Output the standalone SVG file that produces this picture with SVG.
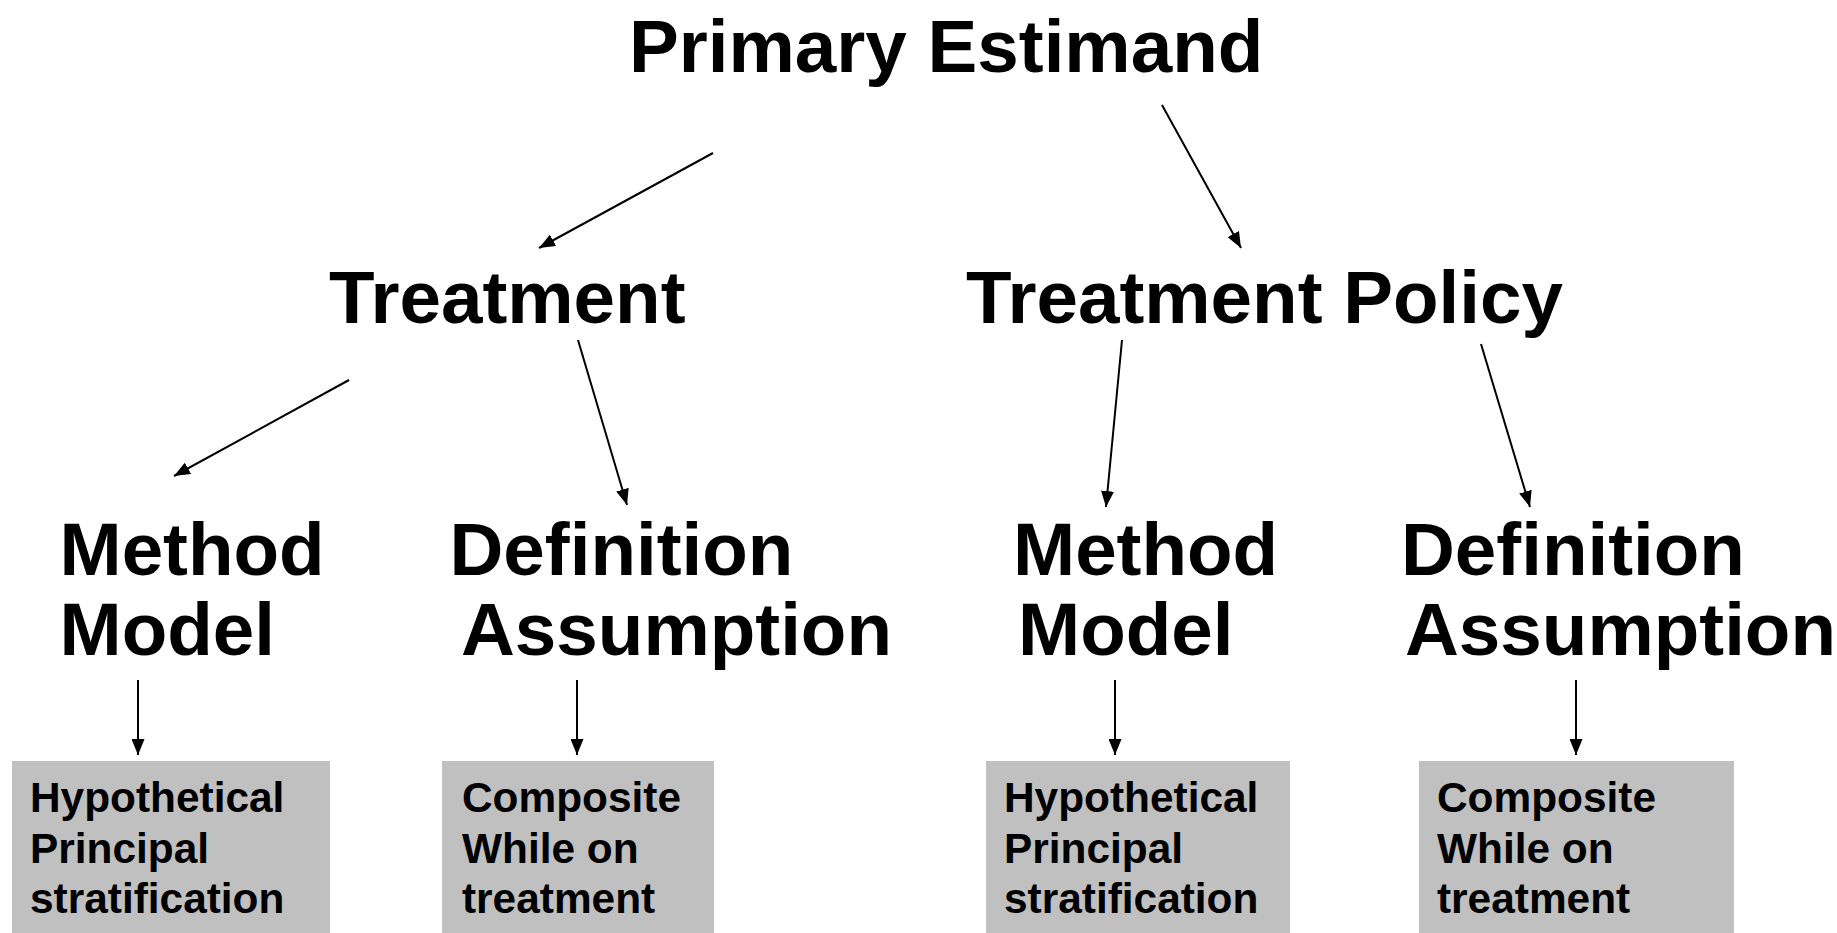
<svg xmlns="http://www.w3.org/2000/svg" width="1837" height="933" viewBox="0 0 1837 933">
<style>
.t{font-family:"Liberation Sans",Arial,sans-serif;font-weight:bold;fill:#000}
.big{font-size:74.6px}
.small{font-size:42.4px}
.box{fill:#c0c0c0}
.c{stroke:#000;stroke-width:2;fill:none;marker-end:url(#ah)}
</style>
<defs>
<marker id="ah" markerUnits="userSpaceOnUse" markerWidth="17" markerHeight="13" refX="16" refY="6.5" orient="auto">
<path d="M0,0 L16,6.5 L0,13 z" fill="#000"/>
</marker>
</defs>
<rect width="1837" height="933" fill="#fff"/>
<g id="connectors">
<line class="c" x1="713" y1="153" x2="539" y2="248"/>
<line class="c" x1="1162" y1="105" x2="1241" y2="248"/>
<line class="c" x1="349" y1="380" x2="174" y2="476"/>
<line class="c" x1="578" y1="340" x2="627" y2="505"/>
<line class="c" x1="1122" y1="340" x2="1106" y2="507"/>
<line class="c" x1="1481" y1="344" x2="1530" y2="507"/>
<line class="c" x1="138" y1="680" x2="138" y2="755"/>
<line class="c" x1="577" y1="680" x2="577" y2="755"/>
<line class="c" x1="1115" y1="680" x2="1115" y2="755"/>
<line class="c" x1="1576" y1="680" x2="1576" y2="755"/>
</g>
<g id="primary"><text class="t big" x="629" y="72">Primary Estimand</text></g>
<g id="treatment"><text class="t big" x="329" y="323">Treatment</text></g>
<g id="treatment-policy"><text class="t big" x="966" y="323">Treatment Policy</text></g>
<g id="method-model-1"><text class="t big" x="59.5" y="575">Method</text><text class="t big" x="59.5" y="655">Model</text></g>
<g id="definition-assumption-1"><text class="t big" x="449.5" y="575">Definition</text><text class="t big" x="461" y="655">Assumption</text></g>
<g id="method-model-2"><text class="t big" x="1013" y="575">Method</text><text class="t big" x="1018" y="655">Model</text></g>
<g id="definition-assumption-2"><text class="t big" x="1401" y="575">Definition</text><text class="t big" x="1405" y="655">Assumption</text></g>
<g id="box-1"><rect class="box" x="12" y="761" width="318" height="172"/><text class="t small" x="30" y="812">Hypothetical</text><text class="t small" x="30" y="863">Principal</text><text class="t small" x="30" y="913">stratification</text></g>
<g id="box-2"><rect class="box" x="442" y="761" width="272" height="172"/><text class="t small" x="462" y="812">Composite</text><text class="t small" x="462" y="863">While on</text><text class="t small" x="462" y="913">treatment</text></g>
<g id="box-3"><rect class="box" x="986" y="761" width="304" height="172"/><text class="t small" x="1004" y="812">Hypothetical</text><text class="t small" x="1004" y="863">Principal</text><text class="t small" x="1004" y="913">stratification</text></g>
<g id="box-4"><rect class="box" x="1419" y="761" width="315" height="172"/><text class="t small" x="1437" y="812">Composite</text><text class="t small" x="1437" y="863">While on</text><text class="t small" x="1437" y="913">treatment</text></g>
</svg>
